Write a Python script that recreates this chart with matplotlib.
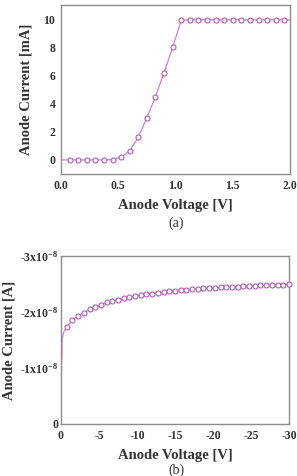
import matplotlib
matplotlib.use("Agg")
import matplotlib.pyplot as plt
import numpy as np

# ---- data (a) ----
va = [0.0, 0.075, 0.15, 0.225, 0.3, 0.375, 0.45, 0.525, 0.6, 0.675, 0.75, 0.825,
      0.9, 0.975, 1.05, 1.125, 1.2, 1.275, 1.35, 1.425, 1.5, 1.575, 1.65, 1.725,
      1.8, 1.875, 1.95, 2.0]
ia = [0.0, 0.0, 0.0, 0.0, 0.0, 0.0, 0.02, 0.2, 0.65, 1.6, 3.0, 4.5,
      6.2, 8.0, 9.9, 9.95, 9.95, 9.95, 9.95, 9.95, 9.95, 9.95, 9.95, 9.95,
      9.95, 9.95, 9.95, 9.95]

# ---- data (b) ----
vb_marks = [-0.75, -1.5, -2.25, -3.0, -3.75, -4.5, -5.25, -6.0, -6.75, -7.5,
            -8.25, -9.0, -9.75, -10.5, -11.25, -12.0, -12.75, -13.5, -14.25, -15.0,
            -15.75, -16.5, -17.25, -18.0, -18.75, -19.5, -20.25, -21.0, -21.75, -22.5,
            -23.25, -24.0, -24.75, -25.5, -26.25, -27.0, -27.75, -28.5, -29.25, -30.0]
ib_marks_e8 = [1.73, 1.86, 1.93, 1.99, 2.05, 2.09, 2.13, 2.17, 2.19, 2.22,
               2.245, 2.265, 2.285, 2.30, 2.315, 2.33, 2.345, 2.36, 2.37, 2.38,
               2.39, 2.40, 2.41, 2.415, 2.42, 2.425, 2.43, 2.44, 2.445, 2.45,
               2.455, 2.46, 2.465, 2.47, 2.475, 2.48, 2.485, 2.49, 2.49, 2.495]
vb_start = [0.0, -0.03, -0.06, -0.1, -0.2, -0.4]
ib_start_e8 = [0.0, 0.6, 1.1, 1.4, 1.55, 1.65]

xt_a = [0.0, 0.5, 1.0, 1.5, 2.0]
xt_a_lbl = ["0.0", "0.5", "1.0", "1.5", "2.0"]
yt_a = [0, 2, 4, 6, 8, 10]
xt_b = [0, -5, -10, -15, -20, -25, -30]
xt_b_lbl = ["0", "-5", "-10", "-15", "-20", "-25", "-30"]
yt_b_e8 = [0, -1, -2, -3]
yt_b_lbl = ["0", "-1x10$^{-8}$", "-2x10$^{-8}$", "-3x10$^{-8}$"]

plt.rcParams['font.family'] = ['Liberation Serif', 'DejaVu Serif']
plt.rcParams['mathtext.fontset'] = 'custom'
plt.rcParams['mathtext.rm'] = 'Liberation Serif:bold'
plt.rcParams['mathtext.it'] = 'Liberation Serif:bold'
plt.rcParams['mathtext.bf'] = 'Liberation Serif:bold'

LINE = '#d47ad4'
MEDGE = '#b55ab8'
SPINE = '#8c8c8c'
TXT = '#333333'
tick_fs = 8.5
lab_fs = 10.5

fig = plt.figure(figsize=(2.97, 4.76), dpi=100)

def style(ax):
    for s in ax.spines.values():
        s.set_color(SPINE)
        s.set_linewidth(1.0)
    ax.tick_params(length=0, pad=4, labelsize=tick_fs, labelcolor=TXT)
    for lbl in ax.get_xticklabels() + ax.get_yticklabels():
        lbl.set_fontweight('bold')

# (a)
ax1 = fig.add_axes([61/297, 1-174/476, 229/297, 169/476])
ax1.plot(va, ia, color=LINE, lw=0.9, zorder=2)
ax1.plot(va[1:-1], ia[1:-1], ls='none', marker='o', ms=3.6, mfc='white',
         mec=MEDGE, mew=0.8, zorder=3)
ax1.set_xlim(0, 2.0)
ax1.set_ylim(-1, 11)
ax1.set_xticks(xt_a)
ax1.set_xticklabels(xt_a_lbl)
ax1.set_yticks(yt_a)
ax1.set_yticklabels([str(v) for v in yt_a])
style(ax1)
ax1.set_xlabel("Anode Voltage [V]", fontsize=lab_fs, fontweight='bold', color=TXT, labelpad=5)
ax1.set_ylabel("Anode Current [mA]", fontsize=lab_fs, fontweight='bold', color=TXT, labelpad=8)
fig.text(176/297, 1-223/476, "(a)", ha='center', va='center', fontsize=10, color=TXT)

# (b)
ax2 = fig.add_axes([61/297, 1-424/476, 228/297, 168/476])
vb_line = vb_start + vb_marks
ib_line = [-v * 1e-8 for v in ib_start_e8 + ib_marks_e8]
ax2.plot(vb_line, ib_line, color=LINE, lw=0.9, zorder=2)
ax2.plot(vb_start[:4], [-v * 1e-8 for v in ib_start_e8[:4]], color='#c0406a', lw=0.9, zorder=2)
ax2.plot(vb_marks, [-v * 1e-8 for v in ib_marks_e8], ls='none', marker='o', ms=3.6,
         mfc='white', mec=MEDGE, mew=0.8, zorder=3, clip_on=False)
ax2.set_xlim(0, -30)
ax2.set_ylim(0, -3e-8)
ax2.set_xticks(xt_b)
ax2.set_xticklabels(xt_b_lbl)
ax2.set_yticks([v * 1e-8 for v in yt_b_e8])
ax2.set_yticklabels(yt_b_lbl)
style(ax2)
ax2.tick_params(axis='y', pad=2)
ax2.set_xlabel("Anode Voltage [V]", fontsize=lab_fs, fontweight='bold', color=TXT, labelpad=5)
ax2.set_ylabel("Anode Current [A]", fontsize=lab_fs, fontweight='bold', color=TXT, labelpad=3)
fig.text(176/297, 1-470/476, "(b)", ha='center', va='center', fontsize=10, color=TXT)

fig.savefig("out.png", dpi=100)
